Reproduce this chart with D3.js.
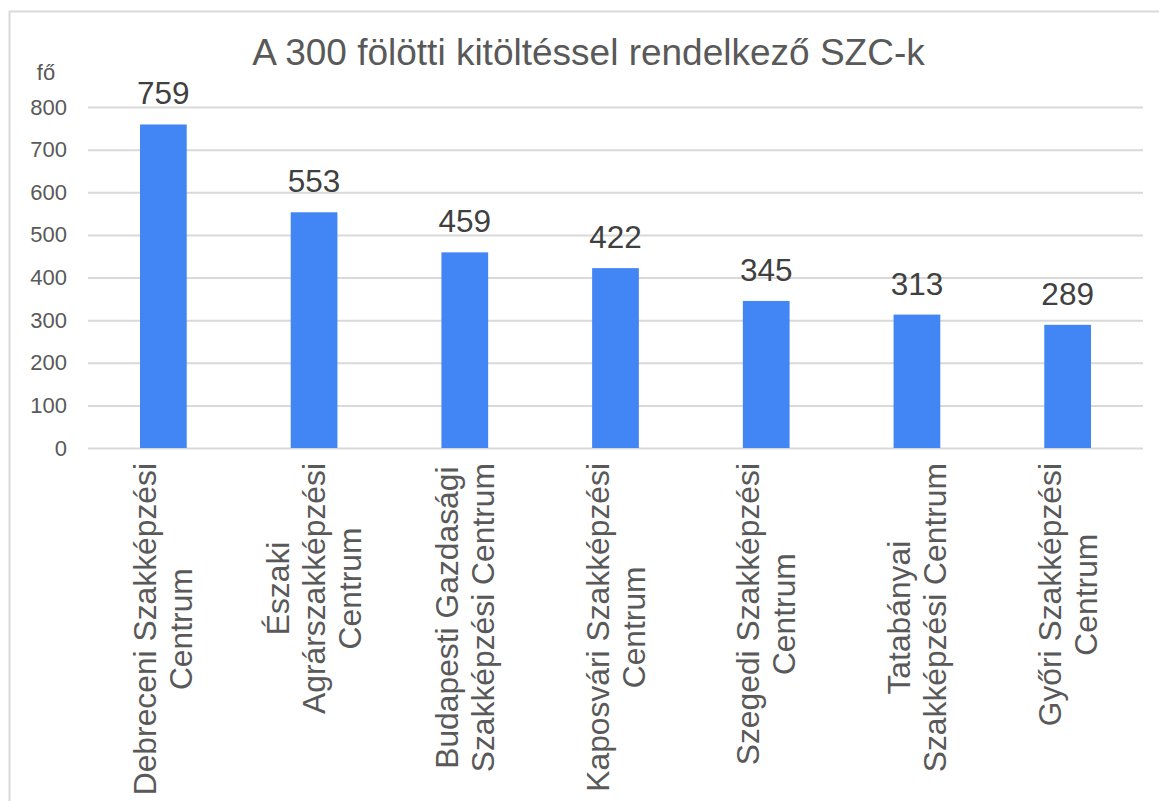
<!DOCTYPE html>
<html><head><meta charset="utf-8">
<script src="https://cdn.jsdelivr.net/npm/d3@7"></script>
<style>html,body{margin:0;padding:0;background:#fff;}svg{display:block;}</style>
</head><body>
<svg id="c" width="1159" height="801"></svg>
<script>
const categories = [
  ["Debreceni Szakképzési", "Centrum"],
  ["Északi", "Agrárszakképzési", "Centrum"],
  ["Budapesti Gazdasági", "Szakképzési Centrum"],
  ["Kaposvári Szakképzési", "Centrum"],
  ["Szegedi Szakképzési", "Centrum"],
  ["Tatabányai", "Szakképzési Centrum"],
  ["Győri Szakképzési", "Centrum"]
];
const values = [759, 553, 459, 422, 345, 313, 289];
const yTicks = [0, 100, 200, 300, 400, 500, 600, 700, 800];
const title = "A 300 fölötti kitöltéssel rendelkező SZC-k";
const yUnit = "fő";

(function () {
const font = "'Liberation Sans', Arial, sans-serif";
const textColor = "#595959";
const svg = d3.select("#c");

svg.append("rect").attr("x", 9.5).attr("y", 11.5).attr("width", 1160).attr("height", 800)
  .attr("fill", "#fff").attr("stroke", "#d9d9d9").attr("stroke-width", 2);

const pl = 88, pr = 1143, pt = 107, pb = 448;
const x = d3.scaleBand().domain(d3.range(categories.length)).range([pl, pr]).paddingInner(0.69).paddingOuter(0.345);
const y = d3.scaleLinear().domain([0, 800]).range([pb, pt]);

const yAxis = d3.axisLeft(y).tickValues(yTicks).tickSize(-(pr - pl)).tickPadding(21);
const gy = svg.append("g").attr("transform", `translate(${pl},0)`).call(yAxis);
gy.select(".domain").remove();
gy.selectAll(".tick line").attr("stroke", "#d9d9d9").attr("stroke-width", 2);
gy.selectAll(".tick text").attr("fill", textColor).attr("font-family", font).attr("font-size", 22).attr("x", -21);

svg.append("g").selectAll("rect").data(values).join("rect")
  .attr("x", (d, i) => x(i)).attr("width", x.bandwidth())
  .attr("y", d => y(d)).attr("height", d => y(0) - y(d))
  .attr("fill", "#4285f4");

svg.append("g").selectAll("text").data(values).join("text")
  .attr("x", (d, i) => x(i) + x.bandwidth() / 2).attr("y", d => y(d) - 20)
  .attr("text-anchor", "middle").attr("font-family", font).attr("font-size", 31.5)
  .attr("fill", "#404040").text(d => d);

const lineH = 36;
categories.forEach((lines, i) => {
  const cx = x(i) + x.bandwidth() / 2;
  const g = svg.append("g");
  const t = g.append("text").attr("font-family", font).attr("font-size", 31.8).attr("fill", textColor)
    .attr("text-anchor", "middle");
  const n = lines.length;
  lines.forEach((l, j) => {
    t.append("tspan").attr("x", 0).attr("y", (j - (n - 1) / 2) * lineH + 11).text(l);
  });
  let maxW = 0;
  t.selectAll("tspan").each(function () { maxW = Math.max(maxW, this.getComputedTextLength()); });
  g.attr("transform", `translate(${cx},${463 + maxW / 2}) rotate(-90)`);
});

svg.append("text").attr("x", 588.5).attr("y", 64.5).attr("text-anchor", "middle")
  .attr("font-family", font).attr("font-size", 37).attr("fill", textColor).text(title);

svg.append("text").attr("x", 46).attr("y", 80).attr("text-anchor", "middle")
  .attr("font-family", font).attr("font-size", 22).attr("fill", textColor).text(yUnit);
})();
</script>
</body></html>
